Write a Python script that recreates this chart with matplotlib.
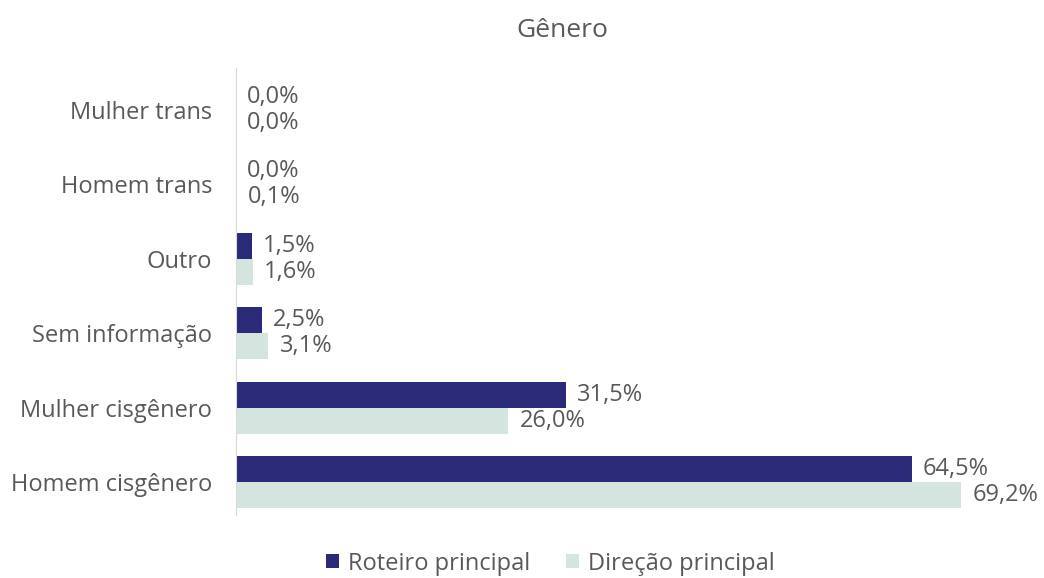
import matplotlib.pyplot as plt
import numpy as np

plt.rcParams['font.family'] = ['Open Sans', 'DejaVu Sans']

categorias = ['Homem cisgênero', 'Mulher cisgênero', 'Sem informação', 'Outro', 'Homem trans', 'Mulher trans']
roteiro = [64.5, 31.5, 2.5, 1.5, 0.0, 0.0]
direcao = [69.2, 26.0, 3.1, 1.6, 0.1, 0.0]

cor_rot = '#2b2a78'
cor_dir = '#d3e5de'
cinza = '#595959'

fig = plt.figure(figsize=(10.44, 5.78), dpi=100)
ax = fig.add_axes([0.226, 0.109, 0.761, 0.773])

y = np.arange(len(categorias))
h = 0.35
ax.barh(y + h / 2, roteiro, height=h, color=cor_rot, label='Roteiro principal')
ax.barh(y - h / 2, direcao, height=h, color=cor_dir, label='Direção principal')

for i in range(len(categorias)):
    ax.annotate(f'{roteiro[i]:.1f}%'.replace('.', ','), (roteiro[i], y[i] + h / 2),
                xytext=(8, 0), textcoords='offset points', va='center', ha='left',
                fontsize=17, color=cinza)
    ax.annotate(f'{direcao[i]:.1f}%'.replace('.', ','), (direcao[i], y[i] - h / 2),
                xytext=(8, 0), textcoords='offset points', va='center', ha='left',
                fontsize=17, color=cinza)

ax.set_xlim(0, 75.8)
ax.set_ylim(-0.44, 5.56)
ax.set_yticks(y)
ax.set_yticklabels(categorias, fontsize=17, color=cinza)
ax.tick_params(axis='y', length=0, pad=17)
ax.set_xticks([])
for s in ['top', 'right', 'bottom']:
    ax.spines[s].set_visible(False)
ax.spines['left'].set_color('#d9d9d9')

fig.text(0.539, 0.948, 'Gênero', ha='center', va='center', fontsize=19, color=cinza)
fig.legend(loc='center', bbox_to_anchor=(0.527, 0.025), ncol=2, frameon=False,
           fontsize=17, labelcolor=cinza, handlelength=0.55, handleheight=0.55,
           handletextpad=0.4, columnspacing=1.5)

fig.savefig('out.png', dpi=100)
